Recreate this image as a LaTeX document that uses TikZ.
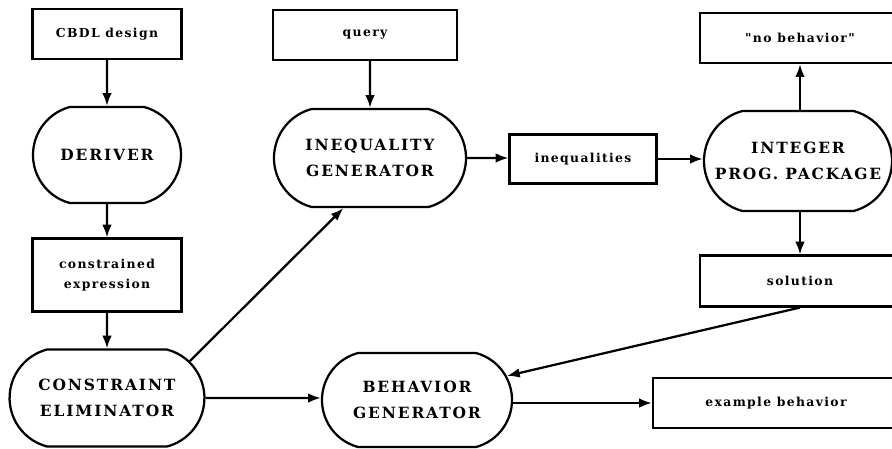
\documentclass[tikz,border=0pt]{standalone}
\usepackage{fontspec}
\newfontfamily\procfont[LetterSpace=12]{DejaVu Serif}
\newfontfamily\datafont[LetterSpace=11]{DejaVu Serif}
\usetikzlibrary{arrows.meta,shapes.misc}

\begin{document}
\begin{tikzpicture}[
  x=0.025cm, y=-0.025cm,
  proc/.style = {rounded rectangle, rounded rectangle arc length=150,
                 draw, line width=1.6pt, align=center, inner sep=0pt,
                 minimum width=4.8cm, minimum height=2.45cm,
                 font=\procfont\bfseries\fontsize{11}{19}\selectfont},
  data/.style = {rectangle, draw, line width=1.6pt, align=center, inner sep=0pt,
                 minimum height=1.25cm,
                 font=\datafont\bfseries\fontsize{8.8}{14.5}\selectfont},
  flow/.style = {-{Latex[length=3.2mm,width=2.4mm]}, line width=1.6pt},
]
\clip (0,0) rectangle (892,448);

% ── Left column ──────────────────────────────────────────────
\node[data, minimum width=3.72cm]  (cbdl)   at (107,34)  {CBDL design};
\node[proc, minimum width=3.7cm, minimum height=2.4cm] (deriver) at (107,155) {DERIVER};
\node[data, minimum width=3.72cm, minimum height=1.82cm] (constr) at (107,275) {constrained\\expression};
\node[proc, minimum width=4.87cm, minimum height=2.42cm] (conelim) at (107,398) {CONSTRAINT\\ELIMINATOR};

% ── Middle ───────────────────────────────────────────────────
\node[data, minimum width=4.6cm]   (query)  at (365,35)  {query};
\node[proc]                        (ineqgen) at (370,158) {INEQUALITY\\GENERATOR};
\node[data, minimum width=3.67cm, minimum height=1.22cm] (ineqs) at (583,159) {inequalities};
\node[proc, minimum width=4.75cm, minimum height=2.35cm] (behgen) at (417,400) {BEHAVIOR\\GENERATOR};

% ── Right column ─────────────────────────────────────────────
\node[data, minimum width=5cm]     (nobeh)  at (800,38)  {"no behavior"};
\node[proc, minimum width=4.7cm, minimum height=2.5cm] (intprog) at (798,161) {INTEGER\\PROG. PACKAGE};
\node[data, minimum width=5cm, minimum height=1.27cm] (solution) at (800,281) {solution};
\node[data, minimum width=6.15cm]  (example) at (776,403) {example behavior};

% ── Flows ────────────────────────────────────────────────────
\draw[flow] (cbdl)     -- (deriver);
\draw[flow] (deriver)  -- (constr);
\draw[flow] (constr)   -- (conelim);
\draw[flow] (conelim.24) -- (ineqgen.242);
\draw[flow] (conelim)  -- (behgen.west |- conelim);
\draw[flow] (ineqgen.north |- query.south) -- (ineqgen);
\draw[flow] (ineqgen)  -- (ineqs.west |- ineqgen);
\draw[flow] (ineqs)    -- (intprog.west |- ineqs);
\draw[flow] (intprog.north -| nobeh.south) -- (nobeh);
\draw[flow] (intprog.south -| solution.north) -- (solution);
\draw[flow] (solution.south) -- (behgen.15);
\draw[flow] (behgen.east |- example) -- (example);

\end{tikzpicture}
\end{document}
